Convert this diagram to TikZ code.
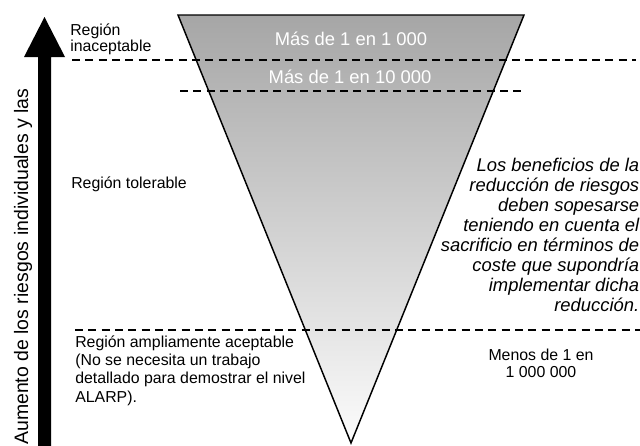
\documentclass[tikz,border=0pt]{standalone}
\usepackage{fontspec}
\setmainfont{Liberation Sans}
\definecolor{topgray}{RGB}{166,166,166}
\definecolor{botgray}{RGB}{252,252,252}
\tikzset{
  lbl/.style={inner sep=0pt, font=\fontsize{11.9pt}{13pt}\selectfont},
  biglbl/.style={inner sep=0pt, text=white, font=\fontsize{13.8pt}{15pt}\selectfont},
  dashline/.style={draw=black, line width=1pt, dash pattern=on 6pt off 4pt},
  trioutline/.style={draw=black, line width=1.1pt, line join=miter},
}
\begin{document}
\begin{tikzpicture}[x=0.75pt,y=-0.75pt]
\useasboundingbox (0,0) rectangle (640,446);
% triangle corners
\coordinate (TL) at (178,15);
\coordinate (TR) at (524,15);
\coordinate (B) at (351,443);
% shaded triangle
\shade[top color=topgray, bottom color=botgray] (TL) -- (TR) -- (B) -- cycle;
% dashed lines
\coordinate (d1a) at (72,60);  \coordinate (d1b) at (636,60);
\coordinate (d2a) at (180,91); \coordinate (d2b) at (523,91);
\coordinate (d3a) at (75,330); \coordinate (d3b) at (640,330);
\draw[dashline] (d1a) -- (d1b);
\draw[dashline] (d2a) -- (d2b);
\draw[dashline] (d3a) -- (d3b);
% triangle outline
\draw[trioutline] (TL) -- (TR) -- (B) -- cycle;
% big arrow
\fill[black] (38,450) -- (38,57) -- (24,57) -- (44.5,17) -- (65,57) -- (51,57) -- (51,450) -- cycle;
% texts
\node[biglbl] (t1) at (351,39) {Más de 1 en 1 000};
\node[biglbl] (t2) at (350,77) {Más de 1 en 10 000};
\node[lbl, anchor=west, align=left, font=\fontsize{11.9pt}{12pt}\selectfont] (inac) at (70,39) {Región\\inaceptable};
\node[lbl, anchor=west] (tol) at (71,184) {Región tolerable};
\node[lbl, anchor=west, align=left, font=\fontsize{11.9pt}{13.7pt}\selectfont] (ampl) at (75,370.5)
  {Región ampliamente aceptable\\(No se necesita un trabajo\\detallado para demostrar el nivel\\ALARP).};
\node[lbl, align=center, font=\fontsize{11.9pt}{12.75pt}\selectfont] (menos) at (541,363.5) {Menos de 1 en\\1 000 000};
\node[inner sep=0pt, anchor=east, align=right, font=\fontsize{13.8pt}{15pt}\selectfont\itshape] (ital) at (639.5,235)
  {Los beneficios de la\\reducción de riesgos\\deben sopesarse\\teniendo en cuenta el\\sacrificio en términos de\\coste que supondría\\implementar dicha\\reducción.};
\node[inner sep=0pt, rotate=90, anchor=base west, font=\fontsize{14.6pt}{16pt}\selectfont] (axis) at (28,445)
  {Aumento de los riesgos individuales y las};
\end{tikzpicture}
\end{document}
